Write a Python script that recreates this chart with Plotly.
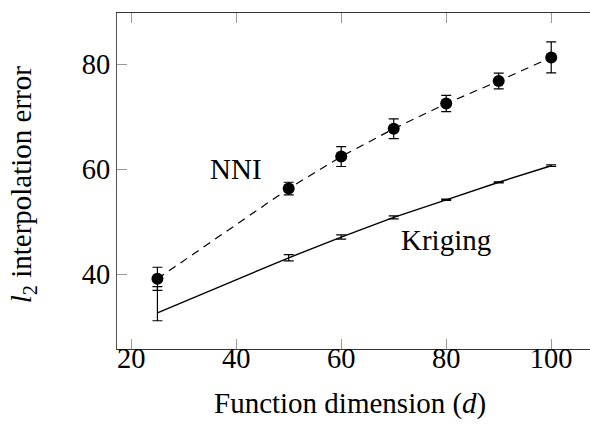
import plotly.graph_objects as go

dims = [25, 50, 60, 70, 80, 90, 100]
nni_mean = [39.1, 56.3, 62.4, 67.7, 72.5, 76.8, 81.3]
nni_err = [2.2, 1.2, 1.9, 1.9, 1.55, 1.5, 2.95]
krig_mean = [32.6, 43.1, 47.05, 50.8, 54.15, 57.5, 60.65]
krig_err_plus = [5.0, 0.6, 0.4, 0.3, 0.12, 0.1, 0.15]
krig_err_minus = [1.5, 0.6, 0.4, 0.3, 0.12, 0.1, 0.15]

FONT = "Liberation Serif"
FS = 29

fig = go.Figure()
fig.add_trace(go.Scatter(
    x=dims, y=krig_mean, mode="lines",
    line=dict(color="black", width=1.4),
    error_y=dict(type="data", symmetric=False, array=krig_err_plus,
                 arrayminus=krig_err_minus, color="black", thickness=1.2, width=5),
    showlegend=False))
fig.add_trace(go.Scatter(
    x=dims, y=nni_mean, mode="lines+markers",
    line=dict(color="black", width=1.2, dash="8px,6px"),
    marker=dict(color="black", size=12),
    error_y=dict(type="data", array=nni_err, color="black", thickness=1.2, width=5),
    showlegend=False))

fig.add_annotation(x=40, y=60.1, text="NNI", showarrow=False,
                   font=dict(family=FONT, size=FS, color="black"))
fig.add_annotation(x=80, y=46.4, text="Kriging", showarrow=False,
                   font=dict(family=FONT, size=FS, color="black"))

# plot area spans 117..620 px (the part beyond 590 is outside the window)
fig.add_annotation(xref="x", yref="paper", x=61.7, y=-0.163,
                   text="Function dimension (<i>d</i>)", showarrow=False,
                   xanchor="center", yanchor="middle",
                   font=dict(family=FONT, size=FS, color="black"))
fig.add_annotation(xref="paper", yref="paper", x=-0.187, y=0.49,
                   text="<i>l</i><sub>2</sub> interpolation error", showarrow=False,
                   textangle=-90, xanchor="center", yanchor="middle",
                   font=dict(family=FONT, size=FS, color="black"))

fig.update_xaxes(range=[17.3, 113.1], tickvals=[20, 40, 60, 80, 100],
                 ticks="inside", ticklen=10, tickcolor="#999", tickwidth=1,
                 showline=True, linecolor="#333", linewidth=1.3, mirror="ticks",
                 showgrid=False, zeroline=False, ticklabelstandoff=-16,
                 tickfont=dict(family=FONT, size=28.5, color="black"))
fig.update_yaxes(range=[25.71, 89.77], tickvals=[40, 60, 80],
                 ticks="inside", ticklen=10, tickcolor="#999", tickwidth=1,
                 showline=True, linecolor="#555", linewidth=1.3, mirror=False,
                 showgrid=False, zeroline=False,
                 tickfont=dict(family=FONT, size=28.5, color="black"))

fig.update_layout(width=620, height=424, margin=dict(l=117, r=0, t=13, b=75),
                  paper_bgcolor="white", plot_bgcolor="white")

fig.write_html("out.html", config={"displayModeBar": False},
               post_script="document.body.style.margin='0';document.body.style.overflow='hidden';")
